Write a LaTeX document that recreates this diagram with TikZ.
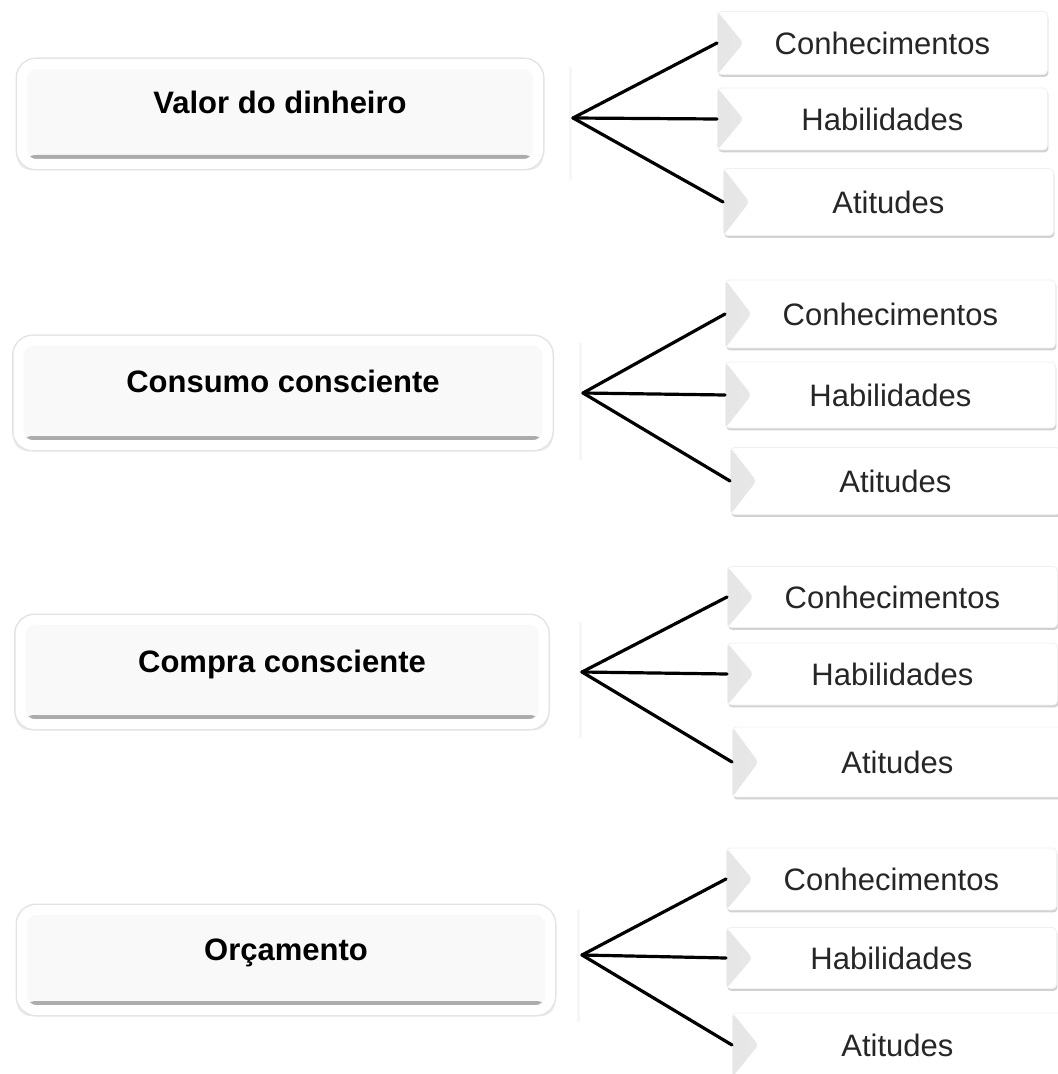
\documentclass[tikz,border=0pt]{standalone}
\usepackage{fontspec}
\setmainfont{Liberation Sans}
\usetikzlibrary{shadows,positioning}

\begin{document}
\begin{tikzpicture}[x=0.5pt, y=-0.5pt,
	topic/.style={rectangle, rounded corners=7pt, fill=gray!5, draw=white, line width=5pt,
		minimum height=50pt, font=\bfseries\fontsize{15.5}{18}\selectfont,
		text height=11pt, text depth=11pt,
		drop shadow={shadow xshift=0pt, shadow yshift=-2.5pt, shadow scale=1.02, fill=gray!50, opacity=.3},
		preaction={draw=gray!22, line width=6.5pt},
		path picture={\shade[top color=gray!5, bottom color=gray!70]
			([yshift=2.5pt]path picture bounding box.south west) rectangle
			([yshift=4.5pt]path picture bounding box.south east);}},
	item/.style={rectangle, rounded corners=2pt, fill=white, draw=gray!12, anchor=west,
		minimum width=165pt, minimum height=32pt, font=\fontsize{15.5}{18}\selectfont, text=black!85,
		drop shadow={shadow xshift=0.5pt, shadow yshift=-1.2pt, fill=gray!60, opacity=.6},
		path picture={\shade[left color=gray!20, right color=white]
			(path picture bounding box.north west) -- ([xshift=13pt]path picture bounding box.west)
			-- (path picture bounding box.south west) -- cycle;}},
	branch/.style={draw=black, line width=1.6pt, line cap=round},
	faint/.style={draw=gray!7, line width=1.5pt}]
	\useasboundingbox (0,0) rectangle (1057,1074);

	% Valor do dinheiro
	\node[topic, minimum width=258pt] (vd) at (280,114) {Valor do dinheiro};
	\draw[faint] (570,67) -- (570,180);
	\coordinate (vd-f) at (573,118);
	\node[item, minimum height=31.5pt] (vd-con) at (717,43)  {Conhecimentos};
	\node[item, minimum height=31pt]   (vd-hab) at (717,119) {Habilidades};
	\node[item, minimum height=33.5pt] (vd-ati) at (723,202) {Atitudes};

	\draw[branch] (vd-f) -- (vd-con.west);
	\draw[branch] (vd-f) -- (vd-hab.west);
	\draw[branch] (vd-f) -- (vd-ati.west);

	% Consumo consciente
	\node[topic, minimum width=264.5pt, minimum height=52pt] (cc) at (283,393) {Consumo consciente};
	\draw[faint] (580,343) -- (580,460);
	\coordinate (cc-f) at (583,393);
	\node[item, minimum height=34pt]   (cc-con) at (725,314) {Conhecimentos};
	\node[item, minimum height=33pt]   (cc-hab) at (725,395) {Habilidades};
	\node[item, minimum height=33.5pt] (cc-ati) at (730,481) {Atitudes};

	\draw[branch] (cc-f) -- (cc-con.west);
	\draw[branch] (cc-f) -- (cc-hab.west);
	\draw[branch] (cc-f) -- (cc-ati.west);

	% Compra consciente
	\node[topic, minimum width=261.5pt, minimum height=52pt] (cp) at (282,672) {Compra consciente};
	\draw[faint] (580,622) -- (580,738);
	\coordinate (cp-f) at (582,672);
	\node[item, minimum height=30.5pt] (cp-con) at (727,597) {Conhecimentos};
	\node[item, minimum height=31pt]   (cp-hab) at (727,674) {Habilidades};
	\node[item, minimum height=35pt]   (cp-ati) at (732,762) {Atitudes};

	\draw[branch] (cp-f) -- (cp-con.west);
	\draw[branch] (cp-f) -- (cp-hab.west);
	\draw[branch] (cp-f) -- (cp-ati.west);

	% Orcamento
	\node[topic, minimum width=264pt] (or) at (286,960) {Orçamento};
	\draw[faint] (578,910) -- (578,1022);
	\coordinate (or-f) at (582,955);
	\node[item, minimum height=31pt]   (or-con) at (726,879)  {Conhecimentos};
	\node[item, minimum height=30.5pt] (or-hab) at (726,958)  {Habilidades};
	\node[item, minimum height=32pt]   (or-ati) at (732,1045) {Atitudes};

	\draw[branch] (or-f) -- (or-con.west);
	\draw[branch] (or-f) -- (or-hab.west);
	\draw[branch] (or-f) -- (or-ati.west);
\end{tikzpicture}
\end{document}
